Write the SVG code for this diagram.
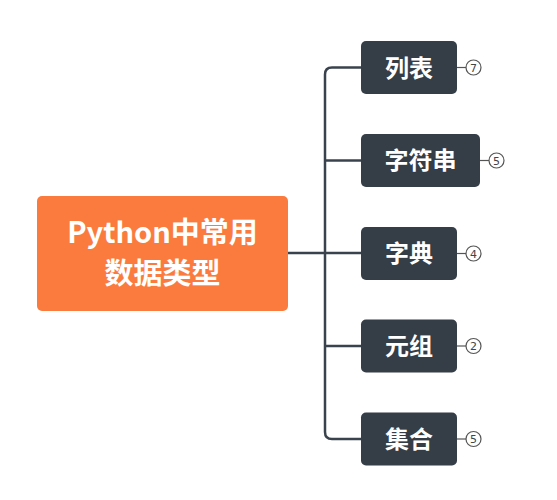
<svg xmlns="http://www.w3.org/2000/svg" width="557" height="500" viewBox="0 0 557 500">
<style>
.root{fill:#FB7B3F}
.node{fill:#353D47}
.rt{font-family:"Noto Sans CJK SC","Noto Sans",sans-serif;font-weight:bold;font-size:29px;fill:#ffffff;text-anchor:middle}
.nt{font-family:"Noto Sans CJK SC","Noto Sans",sans-serif;font-weight:bold;font-size:24px;fill:#ffffff;text-anchor:middle}
.conn{fill:none;stroke:#3A434D;stroke-width:2.5}
.bl{stroke:#555;stroke-width:1.2}
.bc{fill:#fff;stroke:#555;stroke-width:1.2}
.bt{font-family:"DejaVu Sans",sans-serif;font-size:11px;fill:#444;text-anchor:middle}
</style>
<rect width="557" height="500" fill="#ffffff"/>
<g id="connectors">
<path class="conn" d="M288 253 H361"/>
<path class="conn" d="M361 67.5 H332 Q325 67.5 325 74.5 V432 Q325 439 332 439 H361"/>
<path class="conn" d="M325 160.5 H361"/>
<path class="conn" d="M325 346 H361"/>
</g>
<g id="root">
<rect class="root" x="37" y="196" width="251" height="115" rx="5"/>
<text class="rt" x="162.5" y="243">Python中常用</text>
<text class="rt" x="162.5" y="284">数据类型</text>
</g>
<g id="n1">
<rect class="node" x="361" y="41" width="96" height="53" rx="5"/>
<text class="nt" x="409" y="76.5">列表</text>
<line class="bl" x1="457" y1="67.5" x2="466" y2="67.5"/>
<circle class="bc" cx="473.5" cy="67.5" r="7.5"/>
<text class="bt" x="473.5" y="71.5">7</text>
</g>
<g id="n2">
<rect class="node" x="361" y="134" width="119" height="53" rx="5"/>
<text class="nt" x="420.5" y="169">字符串</text>
<line class="bl" x1="480" y1="160.5" x2="489" y2="160.5"/>
<circle class="bc" cx="496.5" cy="160.5" r="7.5"/>
<text class="bt" x="496.5" y="164.5">5</text>
</g>
<g id="n3">
<rect class="node" x="361" y="227" width="96" height="53" rx="5"/>
<text class="nt" x="409" y="262">字典</text>
<line class="bl" x1="457" y1="253.5" x2="466" y2="253.5"/>
<circle class="bc" cx="473.5" cy="253.5" r="7.5"/>
<text class="bt" x="473.5" y="257.5">4</text>
</g>
<g id="n4">
<rect class="node" x="361" y="319.5" width="96" height="53" rx="5"/>
<text class="nt" x="409" y="354.5">元组</text>
<line class="bl" x1="457" y1="346" x2="466" y2="346"/>
<circle class="bc" cx="473.5" cy="346" r="7.5"/>
<text class="bt" x="473.5" y="350">2</text>
</g>
<g id="n5">
<rect class="node" x="361" y="412.5" width="96" height="53" rx="5"/>
<text class="nt" x="409" y="447.5">集合</text>
<line class="bl" x1="457" y1="439" x2="466" y2="439"/>
<circle class="bc" cx="473.5" cy="439" r="7.5"/>
<text class="bt" x="473.5" y="443">5</text>
</g>
</svg>
